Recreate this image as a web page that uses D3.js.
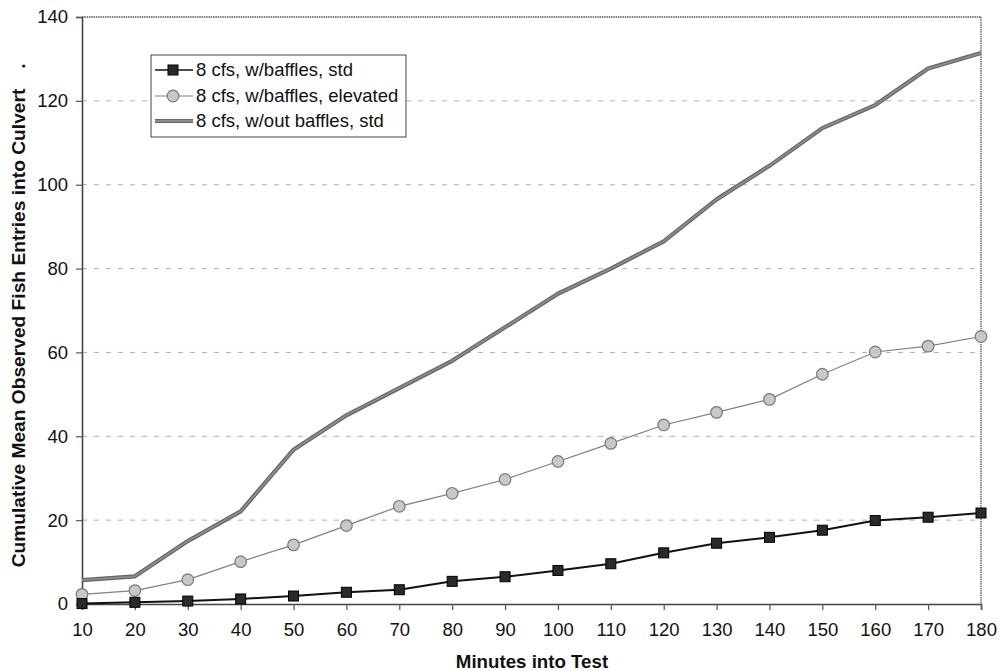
<!DOCTYPE html>
<html><head><meta charset="utf-8">
<script src="https://cdn.jsdelivr.net/npm/d3@7"></script>
<style>
body{margin:0;background:#fff;}
text{font-family:"Liberation Sans",Arial,sans-serif;}
</style></head>
<body><svg id="c" width="1000" height="671"></svg>
<script>
const minutes = [10,20,30,40,50,60,70,80,90,100,110,120,130,140,150,160,170,180];
const bafflesStd = [0.1,0.4,0.7,1.2,1.9,2.8,3.4,5.4,6.5,8.0,9.6,12.2,14.5,15.9,17.6,19.9,20.7,21.7];
const bafflesElevated = [2.3,3.2,5.8,10.1,14.1,18.7,23.3,26.4,29.7,34.0,38.3,42.7,45.7,48.8,54.8,60.1,61.5,63.8];
const noBafflesStd = [5.7,6.6,15.0,22.1,36.8,45.0,51.5,58.0,66.0,74.0,80.0,86.5,96.5,104.5,113.5,119.0,127.7,131.4];
const yTicks = [0,20,40,60,80,100,120,140];
const seriesNames = ["8 cfs, w/baffles, std","8 cfs, w/baffles, elevated","8 cfs, w/out baffles, std"];

const svg = d3.select("#c");
const L=82, R=981, T=17, B=604;
const x = d3.scaleLinear().domain([10,180]).range([L,R]);
const y = d3.scaleLinear().domain([0,140]).range([B,T]);

// gridlines
svg.append("g").selectAll("line").data(yTicks.filter(d=>d>0&&d<140)).join("line")
  .attr("x1",L).attr("x2",R).attr("y1",d=>y(d)).attr("y2",d=>y(d))
  .attr("stroke","#b0b0b0").attr("stroke-width",1).attr("stroke-dasharray","5,7");

// border top/right
svg.append("path").attr("d",`M${L},${T}H${R}V${B}`).attr("fill","none")
  .attr("stroke","#555").attr("stroke-width",1.3).attr("stroke-dasharray","1.5,0.8");

// axes
const yAxis = svg.append("g").attr("transform",`translate(${L},0)`)
  .call(d3.axisLeft(y).tickValues(yTicks).tickSize(6).tickPadding(8));
const xAxis = svg.append("g").attr("transform",`translate(0,${B})`)
  .call(d3.axisBottom(x).tickValues(minutes).tickSize(6).tickPadding(13));
[yAxis,xAxis].forEach(g=>{
  g.select(".domain").attr("stroke","#444").attr("stroke-width",1.6);
  g.selectAll(".tick line").attr("stroke","#555").attr("stroke-width",1.2);
  g.selectAll(".tick text").attr("font-size",18.5).attr("fill","#111")
   .style("font-family",'"Liberation Sans",Arial,sans-serif');
});

const line = vals => d3.line().x((d,i)=>x(minutes[i])).y(d=>y(d))(vals);

// series 3: thick gray line
svg.append("path").attr("d",line(noBafflesStd)).attr("fill","none")
  .attr("stroke","#666").attr("stroke-width",4.2).attr("stroke-linejoin","round");
svg.append("path").attr("d",line(noBafflesStd)).attr("fill","none")
  .attr("stroke","#8c8c8c").attr("stroke-width",1.8).attr("stroke-linejoin","round");

// series 2: thin gray line + circles
svg.append("path").attr("d",line(bafflesElevated)).attr("fill","none")
  .attr("stroke","#808080").attr("stroke-width",1.2);
svg.append("g").selectAll("circle").data(bafflesElevated).join("circle")
  .attr("cx",(d,i)=>x(minutes[i])).attr("cy",d=>y(d)).attr("r",5.8)
  .attr("fill","#c8c8c8").attr("stroke","#7a7a7a").attr("stroke-width",1.2);

// series 1: black line + squares
svg.append("path").attr("d",line(bafflesStd)).attr("fill","none")
  .attr("stroke","#111").attr("stroke-width",2);
svg.append("g").selectAll("rect").data(bafflesStd).join("rect")
  .attr("x",(d,i)=>x(minutes[i])-5).attr("y",d=>y(d)-5).attr("width",10).attr("height",10)
  .attr("fill","#2a2a2a").attr("stroke","#000").attr("stroke-width",1);

// axis titles
svg.append("text").attr("x",532).attr("y",668).attr("text-anchor","middle")
  .attr("font-size",18.7).attr("font-weight","bold").attr("fill","#111").text("Minutes into Test");
svg.append("text").attr("transform","translate(25,328) rotate(-90)").attr("text-anchor","middle")
  .attr("font-size",19.2).attr("font-weight","bold").attr("fill","#111")
  .text("Cumulative Mean Observed Fish Entries into Culvert");
svg.append("text").attr("transform","translate(25,66) rotate(-90)").attr("text-anchor","middle")
  .attr("font-size",19.2).attr("font-weight","bold").attr("fill","#111").text(".");

// legend
const lg = svg.append("g");
lg.append("rect").attr("x",151).attr("y",55).attr("width",255).attr("height",82)
  .attr("fill","#fff").attr("stroke","#444").attr("stroke-width",1);
const ly = [70,96,121];
const lx1=155, lx2=193, mx=173;
lg.append("line").attr("x1",lx1).attr("x2",lx2).attr("y1",ly[0]).attr("y2",ly[0]).attr("stroke","#111").attr("stroke-width",1.6);
lg.append("rect").attr("x",mx-5).attr("y",ly[0]-5).attr("width",10).attr("height",10).attr("fill","#2a2a2a").attr("stroke","#000");
lg.append("line").attr("x1",lx1).attr("x2",lx2).attr("y1",ly[1]).attr("y2",ly[1]).attr("stroke","#808080").attr("stroke-width",1.2);
lg.append("circle").attr("cx",mx).attr("cy",ly[1]).attr("r",5.8).attr("fill","#c8c8c8").attr("stroke","#7a7a7a").attr("stroke-width",1.2);
lg.append("line").attr("x1",lx1).attr("x2",lx2).attr("y1",ly[2]).attr("y2",ly[2]).attr("stroke","#666").attr("stroke-width",4.2);
lg.append("line").attr("x1",lx1).attr("x2",lx2).attr("y1",ly[2]).attr("y2",ly[2]).attr("stroke","#8c8c8c").attr("stroke-width",1.8);
lg.selectAll("text.lt").data(seriesNames).join("text").attr("class","lt")
  .attr("x",196).attr("y",(d,i)=>ly[i]).attr("dy","0.35em")
  .attr("font-size",18.5).attr("fill","#111").text(d=>d);
</script></body></html>
